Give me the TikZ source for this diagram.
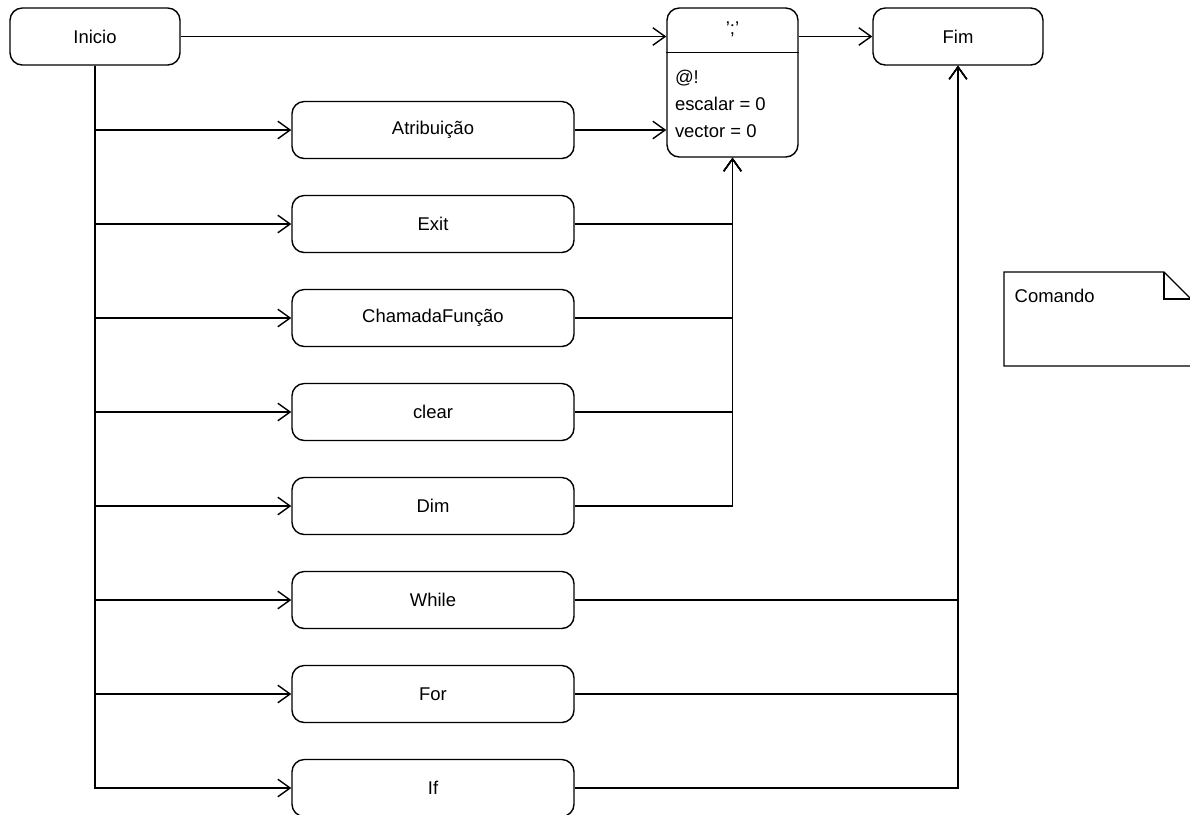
\documentclass[tikz,border=0pt]{standalone}
\usepackage{xcolor}
\usepackage{fontspec}
\setmainfont{Liberation Sans}
\usetikzlibrary{positioning, arrows.meta}
\tikzstyle{startstop} = [rectangle, rounded corners=7pt, minimum width=3.4cm, minimum height=1.14cm, align=center, draw=black, fill=white]
\tikzstyle{comando} = [rectangle, rounded corners=7pt, minimum width=5.64cm, minimum height=1.14cm, align=center, draw=black, fill=white]
\tikzstyle{bloco} = [rectangle, rounded corners=7pt, minimum width=2.62cm, minimum height=2.98cm, draw=black, fill=white]
\tikzstyle{arrow} = [-{Straight Barb[length=7pt,width=10pt]}]

\begin{document}
\begin{tikzpicture}[line width=0.8pt, node distance=1.88cm, on grid, font={\fontsize{10.5}{15.5}\selectfont}]
\useasboundingbox (0,0) rectangle (23.8,-16.3);
\node (inicio) [startstop] at (1.9,-0.73) {Inicio};
\node (fim) [startstop, right=17.26cm of inicio] {Fim};
\node (ponto_virgula) [bloco] at (14.65,-1.65) {};
\node (ponto_virgula_nome) at ([yshift=-0.45cm]ponto_virgula.north) {\char"27;\char"27};
\node (ponto_virgula_corpo) [anchor=north west, align=left, inner sep=0pt] at ([xshift=0.16cm,yshift=-1.24cm]ponto_virgula.north west) {@!\\escalar = 0\\vector = 0};
\draw ([yshift=-0.9cm]ponto_virgula.north west) -- ([yshift=-0.9cm]ponto_virgula.north east);

\node (cmd_atribuicao) [comando, below right=1.87cm and 6.76cm of inicio] {Atribuição};
\node (cmd_exit) [comando, below=of cmd_atribuicao] {Exit};
\node (cmd_chamada) [comando, below=of cmd_exit] {ChamadaFunção};
\node (cmd_clear) [comando, below=of cmd_chamada] {clear};
\node (cmd_dim) [comando, below=of cmd_clear] {Dim};
\node (cmd_while) [comando, below=of cmd_dim] {While};
\node (cmd_for) [comando, below=of cmd_while] {For};
\node (cmd_if) [comando, below=of cmd_for] {If};

\draw (20.08,-5.44) -- (23.28,-5.44) -- (23.84,-6.0) -- (23.84,-7.32) -- (20.08,-7.32) -- cycle;
\draw (23.28,-5.44) -- (23.28,-5.98) -- (23.84,-5.98);
\node (comando_nota) [anchor=base west, inner sep=0pt] at (20.28,-6.04) {Comando};

\draw[arrow] (inicio) -- (inicio -| ponto_virgula.west);
\draw[arrow] (cmd_atribuicao) -- (cmd_atribuicao -| ponto_virgula.west);
\draw[arrow] (ponto_virgula.east |- fim) -- (fim);

\draw[arrow] (inicio) |- (cmd_atribuicao);
\draw[arrow] (inicio) |- (cmd_exit);
\draw[arrow] (inicio) |- (cmd_chamada);
\draw[arrow] (inicio) |- (cmd_clear);
\draw[arrow] (inicio) |- (cmd_dim);
\draw[arrow] (inicio) |- (cmd_while);
\draw[arrow] (inicio) |- (cmd_for);
\draw[arrow] (inicio) |- (cmd_if);

\draw[arrow] (cmd_exit) -| (ponto_virgula);
\draw[arrow] (cmd_chamada) -| (ponto_virgula);
\draw[arrow] (cmd_clear) -| (ponto_virgula);
\draw[arrow] (cmd_dim) -| (ponto_virgula);

\draw[arrow] (cmd_while) -| (fim);
\draw[arrow] (cmd_for) -| (fim);
\draw[arrow] (cmd_if) -| (fim);
\end{tikzpicture}
\end{document}
